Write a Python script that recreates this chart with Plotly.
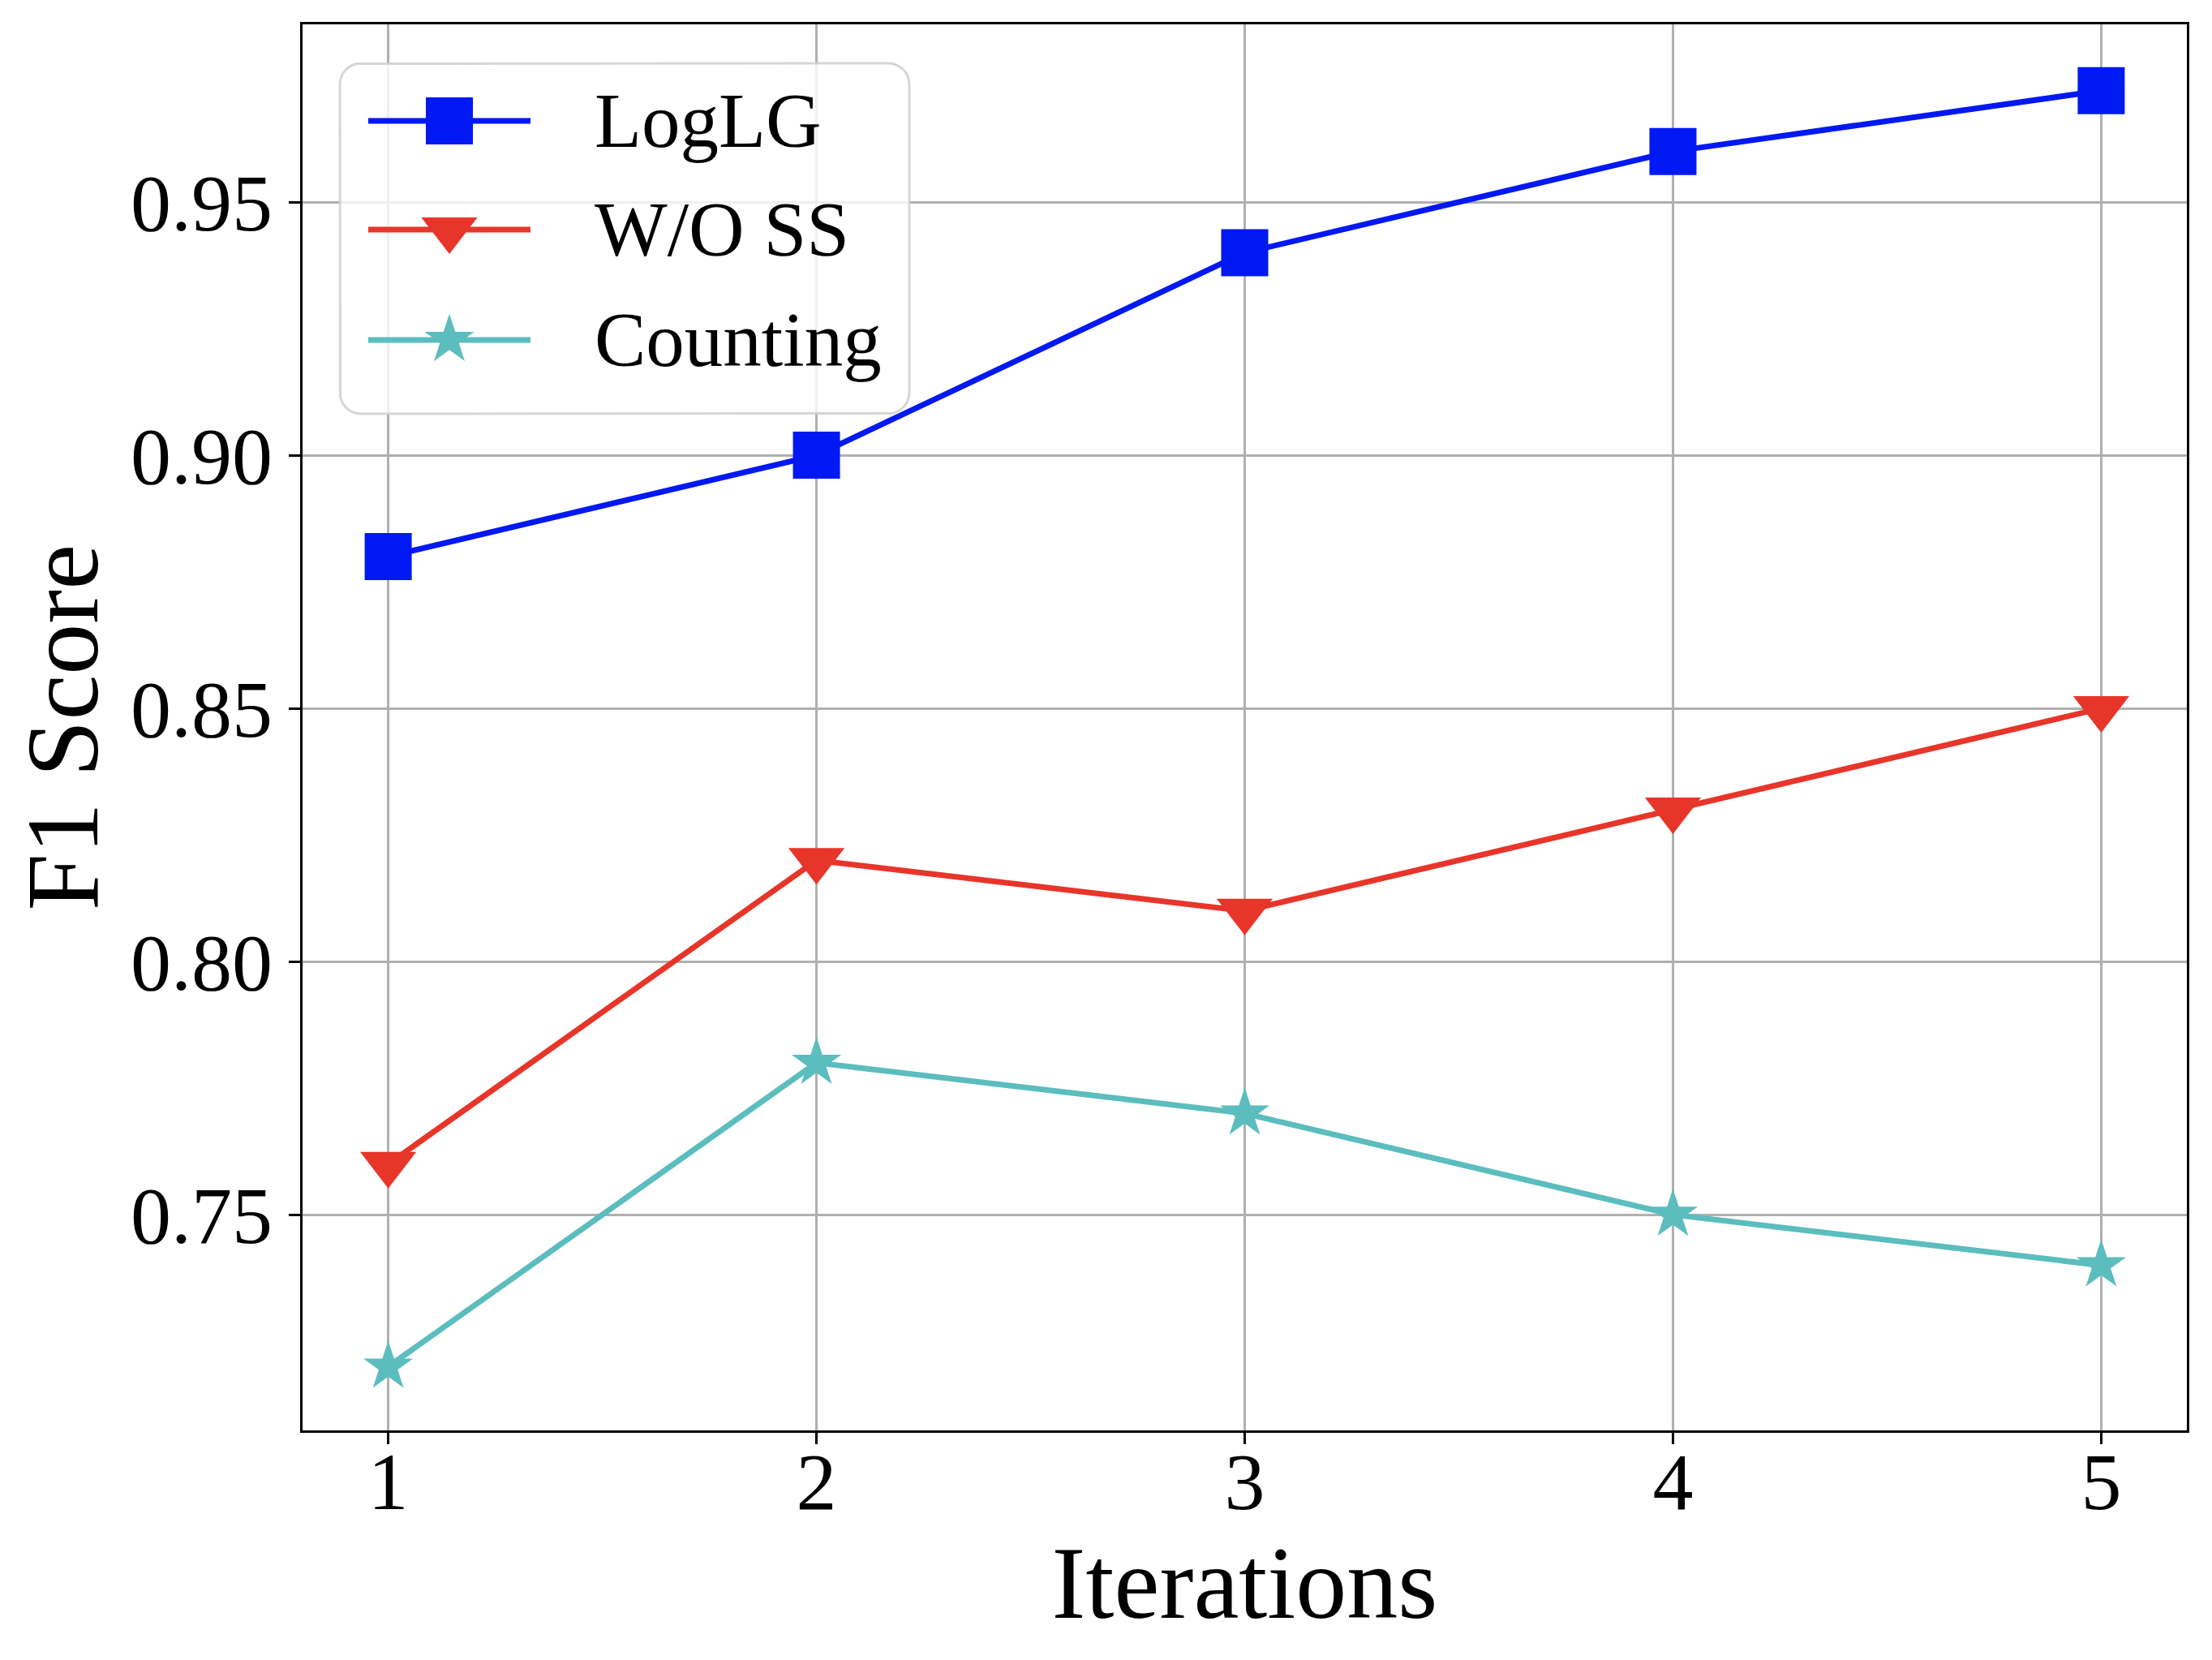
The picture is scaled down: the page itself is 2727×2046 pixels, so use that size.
import math
import plotly.graph_objects as go

# values
iterations = [1, 2, 3, 4, 5]
loglg = [0.88, 0.90, 0.94, 0.96, 0.972]
wo_ss = [0.76, 0.82, 0.81, 0.83, 0.85]
counting = [0.72, 0.78, 0.77, 0.75, 0.74]
series_names = ["LogLG", "W/O SS", "Counting"]
series_colors = ["#0019F2", "#E8352A", "#5BBDBE"]
series_symbols = ["square", "triangle-down", "star"]
symbol_sizes = [58, 60, 46]
y_ticks = [0.75, 0.80, 0.85, 0.90, 0.95]

FONT = "Liberation Serif, Times New Roman, serif"
# page body has an 8px margin, so the figure is shrunk by that much
W, H = 2719, 2038
L, R, T, B = 365, 31, 22, 283
PW, PH = W - L - R, H - T - B  # plot area in px

fig = go.Figure()
for name, ys, col, sym, sz in zip(series_names, [loglg, wo_ss, counting],
                                  series_colors, series_symbols, symbol_sizes):
    fig.add_trace(go.Scatter(x=iterations, y=ys, name=name, mode="lines+markers",
                             line=dict(color=col, width=7),
                             marker=dict(symbol=sym, size=sz, color=col, line=dict(width=0)),
                             showlegend=False))


def rounded_box(x0, y0, x1, y1, r, n=8):
    xs, ys = [], []
    corners = [(x1 - r, y1 - r, 0), (x0 + r, y1 - r, 90), (x0 + r, y0 + r, 180), (x1 - r, y0 + r, 270)]
    for cx, cy, a0 in corners:
        for k in range(n + 1):
            a = math.radians(a0 + 90 * k / n)
            xs.append(cx + r * math.cos(a))
            ys.append(cy + r * math.sin(a))
    xs.append(xs[0])
    ys.append(ys[0])
    return xs, ys


# hand-made legend on a pixel overlay axis (matplotlib-like long sample lines)
bx, by = rounded_box(46, 1253, 748, 1685, 26)
fig.add_trace(go.Scatter(x=bx, y=by, xaxis="x2", yaxis="y2", mode="lines", fill="toself",
                         fillcolor="rgba(255,255,255,0.8)",
                         line=dict(color="rgba(204,204,204,0.8)", width=3),
                         hoverinfo="skip", showlegend=False))
row_y = [1614, 1480, 1344]
for name, col, sym, sz, yy in zip(series_names, series_colors, series_symbols, symbol_sizes, row_y):
    fig.add_trace(go.Scatter(x=[81, 281], y=[yy, yy], xaxis="x2", yaxis="y2", mode="lines",
                             line=dict(color=col, width=7), hoverinfo="skip", showlegend=False))
    fig.add_trace(go.Scatter(x=[181], y=[yy], xaxis="x2", yaxis="y2", mode="markers",
                             marker=dict(symbol=sym, size=sz, color=col, line=dict(width=0)),
                             hoverinfo="skip", showlegend=False))
    fig.add_annotation(x=358, y=yy, xref="x2", yref="y2", text=name, showarrow=False,
                       xanchor="left", yanchor="middle", font=dict(family=FONT, size=95, color="black"))

fig.update_layout(
    width=W, height=H,
    margin=dict(l=L, r=R, t=T, b=B, autoexpand=False),
    paper_bgcolor="white", plot_bgcolor="white",
    font=dict(family=FONT, size=100, color="black"),
    xaxis=dict(range=[0.8, 5.2], tickvals=iterations, showgrid=True, gridcolor="#b0b0b0", gridwidth=3,
               showline=True, linecolor="black", linewidth=3, mirror=True, automargin=False,
               ticks="outside", ticklen=14, tickwidth=3, tickcolor="black", zeroline=False,
               ticklabelstandoff=-40,
               title=dict(text="Iterations", font=dict(size=126), standoff=0)),
    yaxis=dict(range=[0.7074, 0.9851], tickvals=y_ticks, tickformat=".2f",
               showgrid=True, gridcolor="#b0b0b0", gridwidth=3,
               showline=True, linecolor="black", linewidth=3, mirror=True, automargin=False,
               ticks="outside", ticklen=14, tickwidth=3, tickcolor="black", zeroline=False,
               title=dict(text="F1 Score", font=dict(size=126), standoff=12)),
    xaxis2=dict(overlaying="x", range=[0, PW], visible=False, fixedrange=True),
    yaxis2=dict(overlaying="y", range=[0, PH], visible=False, fixedrange=True),
)

fig.write_html("out.html")
